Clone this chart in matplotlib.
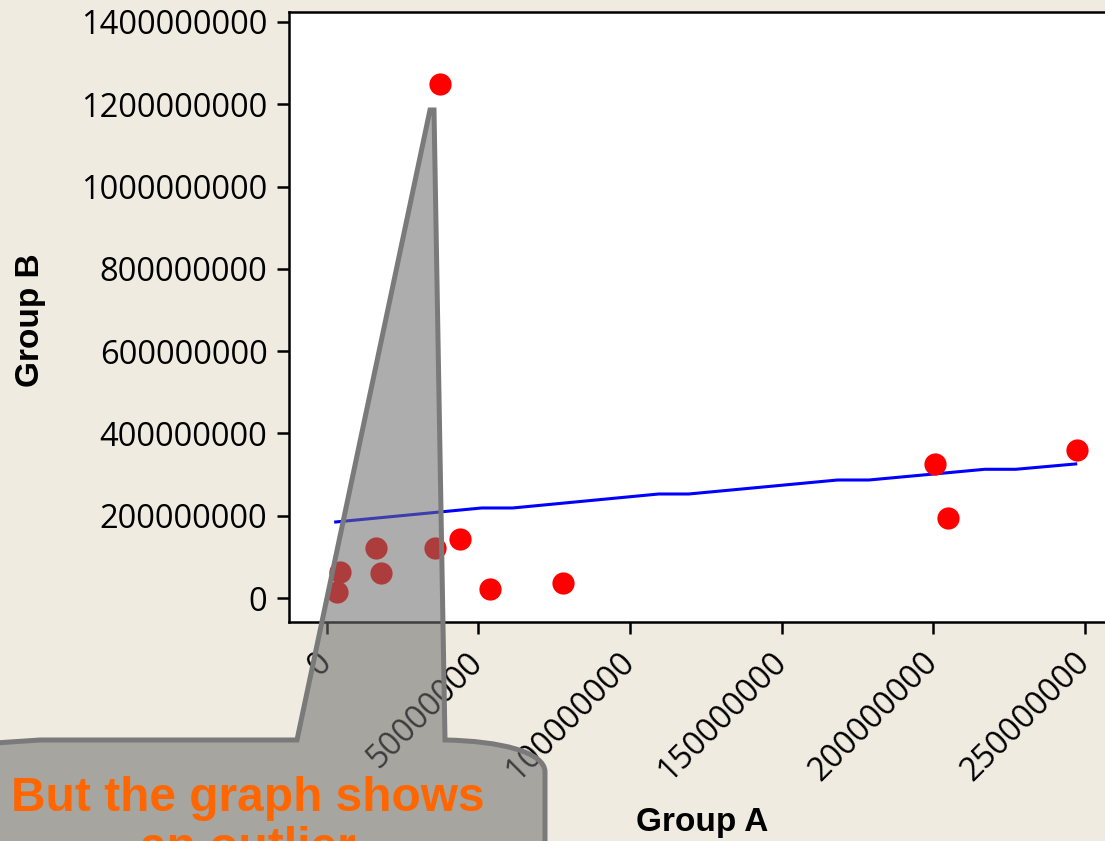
'''
Group A vs Group B scatter with trend line and outlier callout
'''

import matplotlib
matplotlib.use('Agg')
import matplotlib.pyplot as plt
from matplotlib.path import Path
from matplotlib.patches import PathPatch

# scatter values
group_a = [3.5e6, 4.4e6, 16.2e6, 17.8e6, 35.7e6, 37.3e6, 44.0e6, 53.9e6,
           78.1e6, 200.5e6, 205.0e6, 247.3e6]
group_b = [15e6, 64e6, 122e6, 62e6, 122e6, 1249e6, 143e6, 23e6,
           37e6, 327e6, 195e6, 361e6]

# fitted line (as drawn in the original)
fit_x = [3.0e6, 51.1e6, 61.3e6, 109.5e6, 119.4e6, 168.5e6, 178.8e6,
         217.0e6, 227.2e6, 247.0e6]
fit_y = [185e6, 219e6, 219e6, 253e6, 253e6, 287e6, 287e6,
         313e6, 313e6, 326e6]

xticks = [0, 50000000, 100000000, 150000000, 200000000, 250000000]
yticks = [0, 200000000, 400000000, 600000000, 800000000,
          1000000000, 1200000000, 1400000000]

callout_lines = ["But the graph shows", "an outlier"]

W, H = 1105, 841
bg = '#efebe1'

fig = plt.figure(figsize=(W / 100, H / 100), dpi=100, facecolor=bg)
ax = fig.add_axes([289 / W, (H - 622) / H, (1130 - 289) / W, (622 - 12) / H])
ax.set_facecolor('white')

ax.plot(fit_x, fit_y, color='#0000ff', lw=2.2, zorder=2)
ax.plot(group_a, group_b, 'o', color='#ff0000', markersize=16,
        markeredgewidth=0, zorder=3)

ax.set_xlim(-12.4e6, 264.9e6)
ax.set_ylim(-58e6, 1424e6)

tick_font = dict(family='Open Sans', size=23.5)
ax.set_xticks(xticks, labels=[str(v) for v in xticks], **tick_font)
ax.set_yticks(yticks, labels=[str(v) for v in yticks], **tick_font)
for lab in ax.get_xticklabels():
    lab.set_rotation(45)
    lab.set_ha('right')
    lab.set_va('center')
    lab.set_rotation_mode('anchor')

ax.tick_params(direction='out', length=8.5, width=1.8, color='black')
ax.tick_params(axis='x', pad=17)
ax.tick_params(axis='y', pad=7)
for side in ['left', 'bottom', 'top', 'right']:
    ax.spines[side].set_linewidth(1.8)

label_font = dict(family='Liberation Sans', size=24, weight='bold')
ax.set_xlabel('Group A', **label_font)
ax.set_ylabel('Group B', **label_font)
ax.xaxis.set_label_coords((702 - 289) / (1130 - 289), (622 - 822) / 610)
ax.xaxis.label.set_va('center')
ax.yaxis.set_label_coords((30 - 289) / (1130 - 289), (622 - 320) / 610)
ax.yaxis.label.set_va('center')

# callout shape, in figure pixels (y from top)
pts = [(430, 110), (297, 740), (40, 740), (-20, 744), (-60, 770),
       (-60, 900), (545, 900), (545, 772),
       (545, 752), (500, 741), (445, 740),
       (434, 110), (430, 110)]
codes = [Path.MOVETO, Path.LINETO, Path.LINETO, Path.LINETO, Path.LINETO,
         Path.LINETO, Path.LINETO, Path.LINETO,
         Path.CURVE4, Path.CURVE4, Path.CURVE4,
         Path.LINETO, Path.CLOSEPOLY]
verts = [(x / W, 1 - y / H) for x, y in pts]
patch = PathPatch(Path(verts, codes), transform=fig.transFigure,
                  facecolor=(0.43, 0.43, 0.43, 0.56), edgecolor='#7a7a7a',
                  lw=3.6, joinstyle='miter', zorder=10, clip_on=False)
fig.patches.append(patch)

for i, line in enumerate(callout_lines):
    fig.text(248 / W, 1 - (811 + i * 50) / H, line, ha='center', va='baseline',
             color='#ff6600', family='Liberation Sans', weight='bold',
             size=34.5, zorder=11)

fig.savefig('out.png', dpi=100, facecolor=bg)
